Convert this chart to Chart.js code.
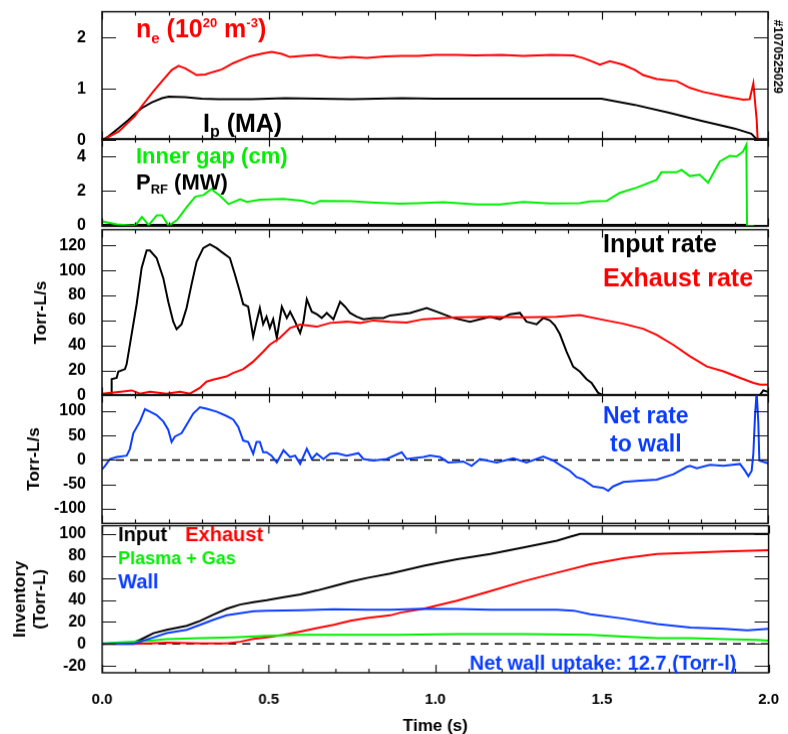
<!DOCTYPE html>
<html>
<head>
<meta charset="utf-8">
<script src="https://cdn.jsdelivr.net/npm/chart.js@4.4.0/dist/chart.umd.min.js"></script>
<style>
  body { margin: 0; background: #fff; width: 788px; height: 734px; position: relative; overflow: hidden; }
  canvas { position: absolute; left: 0; }
</style>
</head>
<body>
<canvas id="p1"></canvas>
<canvas id="p2"></canvas>
<canvas id="p3"></canvas>
<canvas id="p4"></canvas>
<canvas id="p5"></canvas>
<script>
// ---- values (time in s) ----
const neT = [0, 0.05, 0.1, 0.114, 0.154, 0.184, 0.21, 0.23, 0.25, 0.284, 0.31, 0.334, 0.36, 0.394, 0.42, 0.444, 0.484, 0.51, 0.54, 0.564, 0.6, 0.645, 0.68, 0.715, 0.75, 0.795, 0.85, 0.9, 0.95, 1.0, 1.065, 1.12, 1.2, 1.265, 1.35, 1.415, 1.445, 1.465, 1.495, 1.525, 1.565, 1.6, 1.625, 1.666, 1.726, 1.766, 1.806, 1.866, 1.926, 1.945, 1.956, 1.966, 1.969, 2.0];
const neV = [0, 0.17, 0.48, 0.62, 0.95, 1.18, 1.37, 1.45, 1.4, 1.27, 1.28, 1.33, 1.38, 1.5, 1.57, 1.63, 1.69, 1.72, 1.68, 1.62, 1.64, 1.66, 1.62, 1.6, 1.62, 1.6, 1.63, 1.64, 1.64, 1.66, 1.66, 1.65, 1.66, 1.64, 1.66, 1.65, 1.6, 1.55, 1.47, 1.54, 1.47, 1.37, 1.27, 1.19, 1.15, 1.02, 0.94, 0.86, 0.79, 0.8, 1.11, 0.4, 0, 0];
const ipT = [0, 0.02, 0.05, 0.08, 0.1, 0.12, 0.15, 0.18, 0.2, 0.25, 0.3, 0.35, 0.45, 0.55, 0.75, 0.9, 1.0, 1.2, 1.5, 1.6, 1.7, 1.8, 1.9, 1.95, 1.968, 2.0];
const ipV = [0, 0.08, 0.24, 0.4, 0.52, 0.63, 0.74, 0.82, 0.85, 0.84, 0.81, 0.8, 0.8, 0.82, 0.8, 0.82, 0.81, 0.81, 0.81, 0.69, 0.54, 0.38, 0.23, 0.13, 0.01, 0];

const gapT = [0, 0.045, 0.095, 0.105, 0.12, 0.14, 0.165, 0.18, 0.2, 0.225, 0.255, 0.28, 0.305, 0.33, 0.335, 0.355, 0.38, 0.415, 0.435, 0.475, 0.545, 0.6, 0.635, 0.655, 0.745, 0.82, 0.895, 0.95, 1.025, 1.125, 1.195, 1.265, 1.345, 1.435, 1.465, 1.515, 1.555, 1.605, 1.665, 1.68, 1.725, 1.74, 1.765, 1.795, 1.82, 1.855, 1.885, 1.905, 1.925, 1.935, 1.937, 2.0];
const gapV = [0.22, 0.04, -0.04, 0.1, 0.47, 0, 0.57, 0.57, -0.04, 0.28, 1.06, 1.65, 1.75, 2.12, 2.0, 1.7, 1.22, 1.51, 1.35, 1.48, 1.52, 1.42, 1.24, 1.4, 1.39, 1.3, 1.24, 1.27, 1.33, 1.2, 1.2, 1.35, 1.26, 1.28, 1.38, 1.4, 1.88, 2.18, 2.63, 3.08, 3.08, 3.22, 2.86, 2.94, 2.47, 3.71, 4.04, 4.0, 4.29, 4.69, -0.05, -0.05];
const prfT = [0, 1.937];
const prfV = [0, 0];

const inRateT = [0, 0.028, 0.029, 0.044, 0.049, 0.069, 0.074, 0.089, 0.104, 0.119, 0.134, 0.144, 0.164, 0.184, 0.199, 0.214, 0.224, 0.239, 0.254, 0.269, 0.284, 0.304, 0.324, 0.344, 0.364, 0.384, 0.399, 0.414, 0.424, 0.439, 0.454, 0.464, 0.474, 0.484, 0.494, 0.504, 0.514, 0.525, 0.54, 0.555, 0.565, 0.58, 0.595, 0.605, 0.615, 0.63, 0.645, 0.66, 0.675, 0.695, 0.715, 0.73, 0.745, 0.765, 0.785, 0.815, 0.845, 0.865, 0.895, 0.925, 0.975, 1.015, 1.055, 1.105, 1.165, 1.195, 1.225, 1.255, 1.275, 1.305, 1.325, 1.345, 1.36, 1.375, 1.395, 1.415, 1.435, 1.455, 1.47, 1.49, 1.505, 1.975, 1.986, 2.0];
const inRateV = [0, 0, 13, 14, 19, 21, 25, 49, 73, 102, 116, 116, 110, 94, 75, 59, 53, 57, 70, 89, 107, 118, 121, 118, 114, 110, 97, 83, 73, 71, 47, 59, 70, 57, 63, 54, 61, 46, 71, 62, 67, 59, 50, 59, 77, 67, 65, 62, 66, 61, 75, 71, 66, 63, 61, 62, 62, 64, 65, 66, 70, 66, 62, 59, 63, 61, 65, 66, 59, 57, 62, 60, 56, 49, 35, 23, 19, 13, 10, 2, 0, 0, 4, 3];
const exRateT = [0, 0.064, 0.089, 0.114, 0.144, 0.194, 0.234, 0.264, 0.294, 0.314, 0.334, 0.374, 0.394, 0.424, 0.454, 0.484, 0.504, 0.534, 0.565, 0.595, 0.645, 0.685, 0.735, 0.775, 0.815, 0.865, 0.915, 0.965, 1.065, 1.165, 1.265, 1.365, 1.435, 1.495, 1.565, 1.625, 1.665, 1.715, 1.766, 1.816, 1.866, 1.916, 1.956, 1.976, 2.0];
const exRateV = [1.4, 3.2, 4, 1.4, 3, 1.4, 3, 1.4, 6, 11, 12.6, 15.2, 18, 21, 27, 35, 40.6, 46, 54, 56.6, 55, 58, 59, 58, 60, 59, 58.3, 61, 62.6, 63, 62.6, 63, 64.3, 61, 57.4, 53.4, 48.6, 40.6, 31.2, 23.2, 19.2, 14, 10, 8.6, 8.6];

const netT = [0, 0.009, 0.024, 0.044, 0.074, 0.084, 0.094, 0.114, 0.129, 0.144, 0.164, 0.184, 0.199, 0.209, 0.219, 0.239, 0.254, 0.274, 0.294, 0.314, 0.344, 0.374, 0.394, 0.409, 0.424, 0.439, 0.454, 0.464, 0.474, 0.484, 0.494, 0.509, 0.525, 0.545, 0.565, 0.58, 0.595, 0.615, 0.63, 0.645, 0.665, 0.685, 0.705, 0.735, 0.77, 0.785, 0.815, 0.855, 0.9, 0.915, 0.965, 0.985, 1.015, 1.04, 1.085, 1.11, 1.135, 1.185, 1.235, 1.275, 1.325, 1.355, 1.38, 1.405, 1.425, 1.445, 1.475, 1.505, 1.52, 1.535, 1.566, 1.616, 1.666, 1.716, 1.756, 1.766, 1.786, 1.826, 1.866, 1.916, 1.931, 1.941, 1.951, 1.956, 1.961, 1.966, 1.971, 1.974, 2.0];
const netV = [-19, -12, 2, 6, 9, 23, 55, 79, 104, 99, 92, 79, 62, 37, 48, 55, 72, 95, 108, 105, 99, 90, 83, 68, 40, 37, 13, 37, 37, 16, 16, 9, -5, 20, 6, 9, -8, 23, 2, 13, 2, 13, 14, 9, 14, 2, -1, 2, 16, 2, 6, 9, 6, -5, -3, -12, 2, -5, 3.5, -5, 7, -1, -12, -22, -35, -40, -54, -57, -63, -54, -45, -42, -40, -29, -14, -12, -17, -10, -12, -8, -22, -33, -22, 13, 90, 140, 75, -1, -7];

const invInT = [0, 0.094, 0.114, 0.154, 0.194, 0.254, 0.294, 0.334, 0.374, 0.414, 0.454, 0.494, 0.545, 0.595, 0.645, 0.695, 0.745, 0.795, 0.865, 0.965, 1.065, 1.165, 1.265, 1.365, 1.405, 1.435, 2.0];
const invInV = [0, 1.5, 3.7, 9.8, 12.8, 16.5, 21, 26.6, 32, 35.8, 38, 39.8, 42.5, 45, 48.6, 52.6, 56.6, 60, 64, 71, 77, 81.7, 87.8, 93.9, 97.6, 100, 100];
const invExT = [0, 0.094, 0.144, 0.194, 0.294, 0.374, 0.414, 0.454, 0.494, 0.545, 0.595, 0.645, 0.695, 0.745, 0.795, 0.865, 0.895, 0.965, 1.065, 1.165, 1.265, 1.365, 1.465, 1.565, 1.665, 1.766, 1.866, 2.0];
const invExV = [0, 0, 0.6, 1.2, 0.6, 0.6, 2, 4.6, 6, 8.3, 11.3, 14.4, 17.4, 21, 23.5, 26, 28.5, 32, 39.4, 48, 57, 64.8, 72.5, 78, 81.7, 83, 84, 85.3];
const invWallT = [0, 0.094, 0.144, 0.194, 0.254, 0.294, 0.334, 0.374, 0.414, 0.454, 0.494, 0.595, 0.695, 0.795, 0.865, 0.965, 1.065, 1.165, 1.265, 1.365, 1.415, 1.465, 1.565, 1.666, 1.716, 1.766, 1.866, 1.936, 2.0];
const invWallV = [0, 0, 5, 9.8, 12.8, 17.4, 22, 26, 28, 29.7, 30.3, 30.6, 31.5, 31, 31, 32, 31.8, 31, 31, 31, 30.3, 27, 23, 18, 16.5, 15, 13.8, 12.5, 13.8];
const invGasT = [0, 0.094, 0.144, 0.194, 0.294, 0.394, 0.494, 0.595, 0.695, 0.895, 1.065, 1.265, 1.465, 1.565, 1.666, 1.766, 1.866, 1.966, 2.0];
const invGasV = [0.6, 2, 3, 4.3, 5.2, 6, 7.3, 8.3, 8.3, 8.3, 9, 9, 8.3, 6.7, 5.2, 5.2, 4.3, 3.7, 3];

const zeroT = [0, 2];
const zeroV = [0, 0];

const xLabels = [0, 0.5, 1, 1.5, 2];
const ticks1 = [0, 1, 2];
const ticks2 = [0, 2, 4];
const ticks3 = [0, 20, 40, 60, 80, 100, 120];
const ticks4 = [-100, -50, 0, 50, 100];
const ticks5 = [-20, 0, 20, 40, 60, 80, 100];

const RED = "#ff0000", BLACK = "#000000", GREEN = "#00ee00", BLUE = "#0a3cff";
const FONT = "'Liberation Sans', Arial, sans-serif";
const PLOT_LEFT = 102, PLOT_RIGHT = 768;

function pts(t, v) {
  return t.map((x, i) => ({ x: x, y: v[i] }));
}
function line(t, v, color, dash) {
  return {
    data: pts(t, v),
    borderColor: color,
    borderWidth: dash ? 1.5 : 2,
    borderDash: dash ? [8, 6] : [],
    pointRadius: 0,
    tension: 0,
  };
}

// box with inward ticks on all four sides
const frame = {
  id: "frame",
  afterDatasetsDraw(chart) {
    const { ctx, chartArea: a } = chart;
    const x = chart.scales.x, y = chart.scales.y;
    ctx.save();
    ctx.strokeStyle = "#111";
    ctx.lineWidth = 1.5;
    ctx.strokeRect(a.left, a.top, a.right - a.left, a.bottom - a.top);
    ctx.lineWidth = 1.2;
    ctx.beginPath();
    for (let i = 0; i <= 20; i++) {
      const px = Math.round(x.getPixelForValue(i / 10)) + 0.5;
      const len = i % 5 === 0 ? 8 : 4;
      ctx.moveTo(px, a.top); ctx.lineTo(px, a.top + len);
      ctx.moveTo(px, a.bottom); ctx.lineTo(px, a.bottom - len);
    }
    y.ticks.forEach(t => {
      const py = Math.round(y.getPixelForValue(t.value)) + 0.5;
      ctx.moveTo(a.left, py); ctx.lineTo(a.left + 14, py);
      ctx.moveTo(a.right, py); ctx.lineTo(a.right - 14, py);
    });
    ctx.stroke();
    ctx.restore();
  }
};

// text notes, given in page coordinates
function notesPlugin(pos, notes) {
  return {
    id: "notes",
    afterDraw(chart) {
      const ctx = chart.ctx;
      ctx.save();
      ctx.textBaseline = "alphabetic";
      notes.forEach(n => {
        ctx.fillStyle = n.color;
        const nx = n.x - pos.left, ny = n.y - pos.top;
        if (n.rotate) {
          ctx.save();
          ctx.translate(nx, ny);
          ctx.rotate(Math.PI / 2);
          ctx.textBaseline = "middle";
          ctx.font = "bold " + n.size + "px " + FONT;
          ctx.fillText(n.text, 0, 0);
          ctx.restore();
          return;
        }
        let x = nx;
        const runs = n.runs || [{ t: n.text }];
        runs.forEach(r => {
          ctx.font = "bold " + (r.s || n.size) + "px " + FONT;
          ctx.fillText(r.t, x, ny + (r.dy || 0));
          x += ctx.measureText(r.t).width;
        });
      });
      ctx.restore();
    }
  };
}

function panel(id, areaTop, areaBottom, yMin, yMax, yTicks, datasets, notes, yTitle, showX) {
  const pad = 10;
  const cv = document.getElementById(id);
  const pos = { left: 0, top: areaTop - pad };
  const xH = 62;

  function config() {
    const xScale = {
      type: "linear", min: 0, max: 2, display: showX,
      grid: { display: false }, border: { display: false },
      afterBuildTicks: s => { s.ticks = xLabels.map(v => ({ value: v })); },
      ticks: {
        color: BLACK, padding: 10, autoSkip: false, maxRotation: 0,
        font: { family: FONT, size: 15, weight: "bold" },
        callback: v => Number(v).toFixed(1),
      },
      title: { display: true, text: "Time (s)", color: BLACK, padding: 0, font: { family: FONT, size: 17, weight: "bold", lineHeight: 1.0 } },
    };
    if (showX) xScale.afterFit = s => { s.height = xH; };

    const yScale = {
      type: "linear", min: yMin, max: yMax,
      grid: { display: false }, border: { display: false },
      afterBuildTicks: s => { s.ticks = yTicks.map(v => ({ value: v })); },
      afterFit: s => { s.width = PLOT_LEFT; },
      ticks: { color: BLACK, padding: 8, autoSkip: false, font: { family: FONT, size: 16, weight: "bold" } },
    };
    if (yTitle) {
      yScale.title = {
        display: true, text: yTitle.text, color: BLACK,
        padding: { top: yTitle.pad, bottom: 0 },
        font: { family: FONT, size: 17, weight: "bold", lineHeight: 1.2 },
      };
    }
    return {
      type: "line",
      data: { datasets: datasets },
      options: {
        responsive: false,
        maintainAspectRatio: false,
        animation: false,
        devicePixelRatio: 1,
        layout: { padding: { top: pad, bottom: showX ? 0 : pad, left: 0, right: 20 } },
        plugins: { legend: { display: false }, tooltip: { enabled: false } },
        scales: { x: xScale, y: yScale },
      },
      plugins: [frame, notesPlugin(pos, notes)],
    };
  }

  function place(w, h) {
    cv.width = w; cv.height = h;
    cv.style.width = w + "px"; cv.style.height = h + "px";
    cv.style.left = pos.left + "px"; cv.style.top = pos.top + "px";
  }

  // first pass: find the insets the layout gives, then size the canvas so
  // the plot box lands exactly on the wanted page rectangle
  let w = 788;
  let h = showX ? 734 - pos.top : areaBottom - areaTop + 2 * pad;
  place(w, h);
  let chart = new Chart(cv, config());
  for (let k = 0; k < 2; k++) {
    const a = chart.chartArea;
    const insL = a.left, insT = a.top, insR = w - a.right, insB = h - a.bottom;
    pos.left = PLOT_LEFT - insL;
    pos.top = areaTop - insT;
    w = insL + (PLOT_RIGHT - PLOT_LEFT) + insR;
    h = insT + (areaBottom - areaTop) + insB;
    chart.destroy();
    place(w, h);
    chart = new Chart(cv, config());
  }
  return chart;
}

// panel 1: density and plasma current
panel("p1", 12, 139, 0.02, 2.5, ticks1,
  [line(neT, neV, RED), line(ipT, ipV, BLACK)],
  [
    { x: 136, y: 37, color: RED, size: 25, runs: [
      { t: "n" }, { t: "e", s: 15, dy: 6 }, { t: " (10" }, { t: "20", s: 13, dy: -10 },
      { t: " m" }, { t: "-3", s: 13, dy: -10 }, { t: ")" } ] },
    { x: 203, y: 131, color: BLACK, size: 25, runs: [ { t: "I" }, { t: "p", s: 16, dy: 5 }, { t: " (MA)" } ] },
    { x: 777, y: 20, color: BLACK, size: 12, rotate: true, text: "#1070525029" },
  ], null, false);

// panel 2: inner gap and RF power
panel("p2", 139, 226, -0.076, 5.04, ticks2,
  [line(gapT, gapV, GREEN), line(prfT, prfV, BLACK)],
  [
    { x: 136, y: 163, color: GREEN, size: 22, text: "Inner gap (cm)" },
    { x: 136, y: 189, color: BLACK, size: 22, runs: [ { t: "P" }, { t: "RF", s: 13, dy: 4 }, { t: " (MW)" } ] },
  ], null, false);

// panel 3: input and exhaust rates
panel("p3", 230, 395, 0, 132.7, ticks3,
  [line(exRateT, exRateV, RED), line(inRateT, inRateV, BLACK)],
  [
    { x: 603, y: 252, color: BLACK, size: 25, text: "Input rate" },
    { x: 603, y: 286, color: RED, size: 25, text: "Exhaust rate" },
  ], { text: "Torr-L/s", pad: 31 }, false);

// panel 4: net rate to wall
panel("p4", 395, 523, -129.5, 133.6, ticks4,
  [line(netT, netV, BLUE), line(zeroT, zeroV, BLACK, true)],
  [
    { x: 603, y: 423, color: BLUE, size: 23, text: "Net rate" },
    { x: 610, y: 451, color: BLUE, size: 23, text: "to wall" },
  ], { text: "Torr-L/s", pad: 24 }, false);

// panel 5: inventories
panel("p5", 526, 672, -26.2, 107.5, ticks5,
  [line(invWallT, invWallV, BLUE), line(invGasT, invGasV, GREEN), line(invExT, invExV, RED),
   line(invInT, invInV, BLACK), line(zeroT, zeroV, BLACK, true)],
  [
    { x: 118, y: 541, color: BLACK, size: 20, text: "Input" },
    { x: 185, y: 541, color: RED, size: 20, text: "Exhaust" },
    { x: 118, y: 564, color: GREEN, size: 18, text: "Plasma + Gas" },
    { x: 118, y: 588, color: BLUE, size: 20, text: "Wall" },
    { x: 469, y: 669, color: BLUE, size: 20, text: "Net wall uptake: 12.7 (Torr-l)" },
  ], { text: ["Inventory", "(Torr-L)"], pad: 10 }, true);
</script>
</body>
</html>
